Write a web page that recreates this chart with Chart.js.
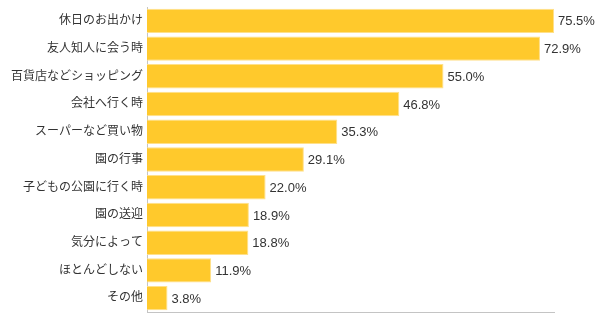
<!DOCTYPE html>
<html>
<head>
<meta charset="utf-8">
<script src="https://cdn.jsdelivr.net/npm/chart.js@4"></script>
<style>
  body { margin: 0; background: #fff; }
  #wrap { width: 602px; height: 324px; }
</style>
</head>
<body>
<div id="wrap"><canvas id="chart" width="602" height="324"></canvas></div>
<script>
const categories = ['休日のお出かけ', '友人知人に会う時', '百貨店などショッピング', '会社へ行く時', 'スーパーなど買い物', '園の行事', '子どもの公園に行く時', '園の送迎', '気分によって', 'ほとんどしない', 'その他'];
const values = [75.5, 72.9, 55.0, 46.8, 35.3, 29.1, 22.0, 18.9, 18.8, 11.9, 3.8];

const FONT = '"Liberation Sans", "Noto Sans CJK JP", sans-serif';

// draws "xx.x%" to the right of each bar
const valueLabels = {
  id: 'valueLabels',
  afterDatasetsDraw(chart) {
    const ctx = chart.ctx;
    const meta = chart.getDatasetMeta(0);
    ctx.save();
    ctx.font = '13px ' + FONT;
    ctx.fillStyle = '#333';
    ctx.textBaseline = 'middle';
    ctx.textAlign = 'left';
    meta.data.forEach((bar, i) => {
      ctx.fillText(values[i].toFixed(1) + '%', bar.x + 4, bar.y + 1);
    });
    ctx.restore();
  }
};

const ctx = document.getElementById('chart').getContext('2d');
const chart = new Chart(ctx, {
  type: 'bar',
  data: {
    labels: categories,
    datasets: [{
      data: values,
      backgroundColor: '#FFC92C',
      borderColor: '#FFE08A',
      borderWidth: 1,
      barPercentage: 0.88,
      categoryPercentage: 1
    }]
  },
  options: {
    indexAxis: 'y',
    responsive: false,
    animation: false,
    layout: { padding: { top: 7, right: 48, bottom: 12, left: 0 } },
    plugins: { legend: { display: false }, tooltip: { enabled: false } },
    scales: {
      x: {
        min: 0,
        max: 75.5,
        grid: { display: false, drawTicks: false },
        border: { color: '#c4c4c4', width: 1 },
        ticks: { display: false }
      },
      y: {
        grid: { display: false, drawTicks: false },
        border: { color: '#c4c4c4', width: 1 },
        ticks: { color: '#333', font: { size: 12, family: FONT }, padding: 4 },
        afterFit(scale) {
          scale.width = 147;
          scale.paddingTop = 0;
          scale.paddingBottom = 0;
        }
      }
    }
  },
  plugins: [valueLabels]
});
</script>
</body>
</html>
